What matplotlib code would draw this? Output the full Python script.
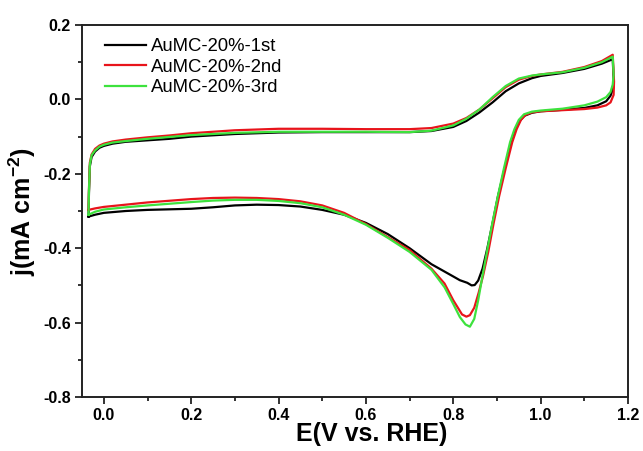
import matplotlib
matplotlib.use("Agg")
import matplotlib.pyplot as plt
from matplotlib.ticker import MultipleLocator, FormatStrFormatter

plt.rcParams['font.family'] = ['Liberation Sans', 'DejaVu Sans']
plt.rcParams['mathtext.fontset'] = 'custom'
plt.rcParams['mathtext.rm'] = 'Liberation Sans'
plt.rcParams['mathtext.bf'] = 'Liberation Sans:bold'

# 1st cycle (black): anodic sweep then cathodic sweep
e_1st = [-0.035, -0.034, -0.032, -0.028, -0.02, -0.01, 0.0, 0.02, 0.05, 0.1, 0.15, 0.2, 0.3, 0.4,
         0.5, 0.6, 0.7, 0.75, 0.8, 0.83, 0.86, 0.89, 0.92, 0.95, 0.98, 1.0, 1.05, 1.1, 1.14, 1.165,
         1.167, 1.166, 1.16, 1.15, 1.13, 1.1, 1.05, 1.0, 0.98, 0.963, 0.952, 0.942, 0.932, 0.917,
         0.902, 0.89, 0.878, 0.867, 0.857, 0.849, 0.842, 0.832, 0.815, 0.8, 0.75, 0.7, 0.65, 0.6,
         0.55, 0.5, 0.45, 0.4, 0.35, 0.3, 0.25, 0.2, 0.1, 0.05, 0.0, -0.02, -0.035]
j_1st = [-0.315, -0.25, -0.18, -0.155, -0.14, -0.13, -0.125, -0.119, -0.114, -0.11, -0.106, -0.1,
         -0.093, -0.089, -0.088, -0.088, -0.088, -0.085, -0.074, -0.058, -0.035, -0.008, 0.022,
         0.043, 0.057, 0.063, 0.071, 0.082, 0.096, 0.108,
         0.055, 0.03, 0.01, -0.005, -0.016, -0.023, -0.028, -0.032, -0.036, -0.044, -0.058,
         -0.083, -0.118, -0.188, -0.262, -0.332, -0.4, -0.455, -0.487, -0.499, -0.5, -0.493,
         -0.486, -0.476, -0.443, -0.4, -0.362, -0.332, -0.31, -0.297, -0.288, -0.284, -0.283,
         -0.285, -0.29, -0.294, -0.297, -0.3, -0.305, -0.31, -0.315]

# 2nd cycle (red)
e_2nd = [-0.035, -0.034, -0.032, -0.028, -0.02, -0.01, 0.0, 0.02, 0.05, 0.1, 0.15, 0.2, 0.3, 0.4,
         0.5, 0.6, 0.7, 0.75, 0.8, 0.83, 0.86, 0.89, 0.92, 0.95, 0.98, 1.0, 1.05, 1.1, 1.14, 1.165,
         1.168, 1.167, 1.16, 1.15, 1.13, 1.1, 1.05, 1.0, 0.98, 0.965, 0.955, 0.945, 0.935, 0.92,
         0.905, 0.892, 0.88, 0.868, 0.858, 0.848, 0.838, 0.83, 0.82, 0.8, 0.78, 0.75, 0.7, 0.65,
         0.6, 0.55, 0.5, 0.45, 0.4, 0.35, 0.3, 0.25, 0.2, 0.1, 0.05, 0.0, -0.02, -0.035]
j_2nd = [-0.297, -0.24, -0.17, -0.148, -0.133, -0.124, -0.119, -0.113, -0.108, -0.102, -0.097,
         -0.091, -0.083, -0.079, -0.079, -0.08, -0.08, -0.077, -0.065, -0.05, -0.027, 0.003,
         0.033, 0.053, 0.063, 0.067, 0.074, 0.087, 0.103, 0.12,
         0.048, 0.012, -0.008, -0.016, -0.022, -0.026, -0.029, -0.032, -0.035, -0.042, -0.055,
         -0.08, -0.115, -0.185, -0.26, -0.335, -0.41, -0.475, -0.52, -0.56, -0.58, -0.584, -0.578,
         -0.54, -0.495, -0.455, -0.405, -0.37, -0.335, -0.305, -0.285, -0.274, -0.268, -0.265,
         -0.264, -0.265, -0.268, -0.277, -0.283, -0.289, -0.293, -0.297]

# 3rd cycle (green)
e_3rd = [-0.035, -0.034, -0.032, -0.028, -0.02, -0.01, 0.0, 0.02, 0.05, 0.1, 0.15, 0.2, 0.3, 0.4,
         0.5, 0.6, 0.7, 0.75, 0.8, 0.83, 0.86, 0.89, 0.92, 0.95, 0.98, 1.0, 1.05, 1.1, 1.14, 1.165,
         1.167, 1.165, 1.16, 1.15, 1.13, 1.1, 1.05, 1.0, 0.98, 0.962, 0.95, 0.94, 0.93, 0.916,
         0.902, 0.889, 0.877, 0.866, 0.857, 0.848, 0.838, 0.828, 0.815, 0.8, 0.78, 0.75, 0.7, 0.65,
         0.6, 0.55, 0.5, 0.45, 0.4, 0.35, 0.3, 0.25, 0.2, 0.1, 0.05, 0.0, -0.02, -0.035]
j_3rd = [-0.31, -0.245, -0.175, -0.15, -0.137, -0.127, -0.122, -0.116, -0.112, -0.106, -0.101,
         -0.096, -0.09, -0.087, -0.087, -0.087, -0.088, -0.084, -0.07, -0.052, -0.027, 0.006,
         0.036, 0.056, 0.064, 0.067, 0.073, 0.085, 0.1, 0.115,
         0.066, 0.04, 0.02, 0.006, -0.006, -0.016, -0.025, -0.03, -0.033, -0.04, -0.055, -0.08,
         -0.115, -0.185, -0.26, -0.335, -0.41, -0.48, -0.54, -0.59, -0.611, -0.605, -0.585,
         -0.55, -0.505, -0.458, -0.41, -0.372, -0.337, -0.31, -0.29, -0.279, -0.273, -0.27,
         -0.27, -0.272, -0.276, -0.285, -0.29, -0.296, -0.302, -0.31]

labels = ["AuMC-20%-1st", "AuMC-20%-2nd", "AuMC-20%-3rd"]
colors = ["#000000", "#e8141b", "#3de23d"]

fig = plt.figure(figsize=(6.43, 4.51), dpi=100)
ax = fig.add_axes([0.1275, 0.1197, 0.8492, 0.8249])

for e, j, lab, c in zip([e_1st, e_2nd, e_3rd], [j_1st, j_2nd, j_3rd], labels, colors):
    ax.plot(e, j, color=c, lw=1.6, label=lab, solid_joinstyle='round')

ax.set_xlim(-0.05, 1.2)
ax.set_ylim(-0.8, 0.2)
ax.xaxis.set_major_locator(MultipleLocator(0.2))
ax.xaxis.set_minor_locator(MultipleLocator(0.1))
ax.yaxis.set_major_locator(MultipleLocator(0.2))
ax.yaxis.set_minor_locator(MultipleLocator(0.1))
ax.xaxis.set_major_formatter(FormatStrFormatter('%.1f'))
ax.yaxis.set_major_formatter(FormatStrFormatter('%.1f'))
ax.tick_params(which='both', direction='out', top=False, right=False, width=1.3, colors='#222222')
ax.tick_params(which='major', length=5, labelsize=11.5, pad=3)
ax.tick_params(which='minor', length=3)
for lbl in ax.get_xticklabels() + ax.get_yticklabels():
    lbl.set_fontweight('bold')
    lbl.set_color('black')
for s in ax.spines.values():
    s.set_linewidth(1.4)
    s.set_color('#222222')

ax.set_xlabel("E(V vs. RHE)", fontsize=18, fontweight='bold')
ax.set_ylabel(r"j(mA cm$^{\mathbf{-2}}$)", fontsize=18, fontweight='bold')
ax.xaxis.set_label_coords(0.53, -0.068)
ax.yaxis.set_label_coords(-0.08, 0.5)

ax.legend(loc='upper left', frameon=False, fontsize=13.3, handlelength=2.25, handletextpad=0.27,
          labelspacing=0.2, borderpad=0, borderaxespad=0, bbox_to_anchor=(0.042, 0.965))

fig.savefig("out.png", dpi=100)
